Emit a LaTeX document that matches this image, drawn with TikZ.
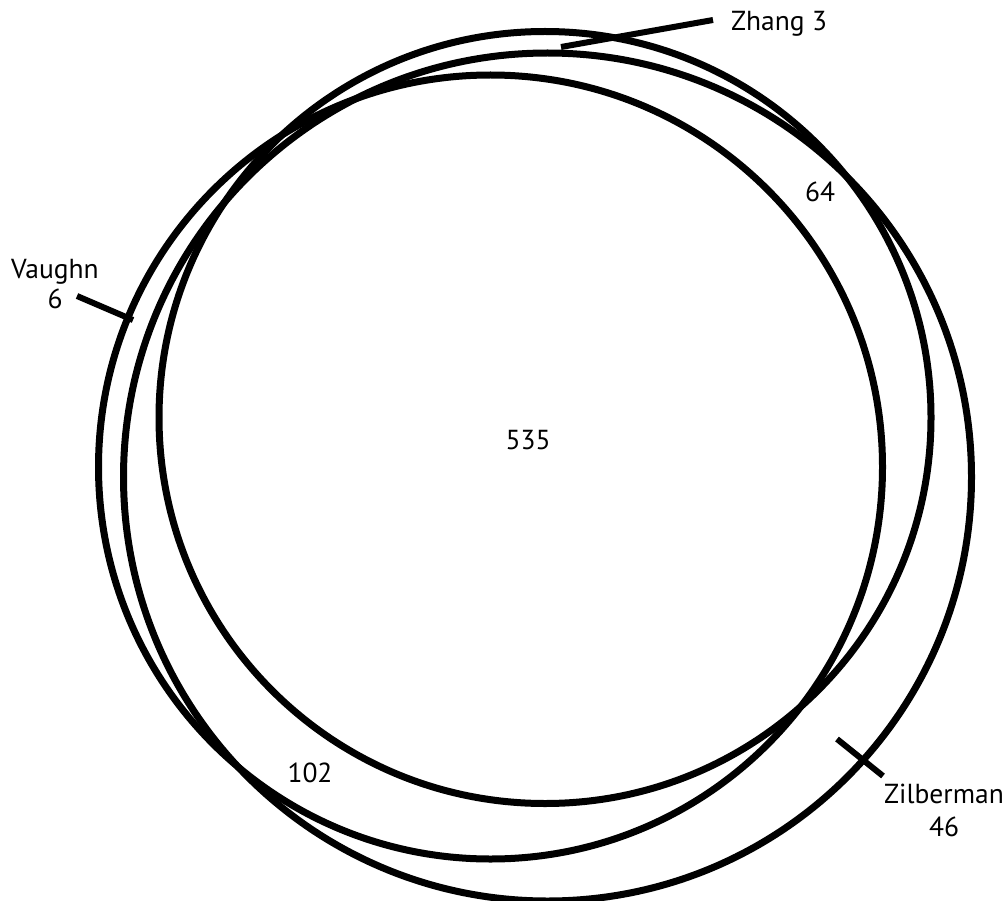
\documentclass[tikz,border=0pt]{standalone}
\usepackage{fontspec}
\setmainfont{PT Sans}
\usetikzlibrary{calc}

\begin{document}
\begin{tikzpicture}[x=1pt,y=-1pt,
    ring/.style={line width=7pt},
    pointer/.style={line width=6pt},
    lbl/.style={font=\fontsize{27.5}{32}\selectfont, inner sep=0pt}]
\useasboundingbox (0,0) rectangle (1008,901);

% Circles
\coordinate (zhang) at (545,417.5);
\coordinate (zilberman) at (547.5,477);
\coordinate (vaughn) at (490.5,467);
\draw[ring] (zhang) circle (386pt);
\draw[ring] (zilberman) circle (424pt);
\draw[ring] (vaughn) circle (392pt);

% Zhang
\node[lbl, anchor=base west] (zhang name) at (731,31) {Zhang 3};
\coordinate (zhang tail) at (713,20);
\coordinate (zhang tip) at (561,47);
\draw[pointer] (zhang tail) -- (zhang tip);

% Vaughn
\node[lbl, anchor=base] (vaughn name) at (55,278) {Vaughn};
\node[lbl, anchor=base] (vaughn count) at (55,308) {6};
\coordinate (vaughn tail) at (77,296);
\coordinate (vaughn tip) at (133,320);
\draw[pointer] (vaughn tail) -- (vaughn tip);

% Zilberman
\node[lbl, anchor=base] (zilberman name) at (944,803) {Zilberman};
\node[lbl, anchor=base] (zilberman count) at (944,836) {46};
\coordinate (zilberman tail) at (883,776);
\coordinate (zilberman tip) at (837,739);
\draw[pointer] (zilberman tail) -- (zilberman tip);

% Overlaps
\node[lbl, anchor=base] (all) at (528,449) {535};
\node[lbl, anchor=base] (zh zi) at (820,202) {64};
\node[lbl, anchor=base] (zi va) at (310,782) {102};

\end{tikzpicture}
\end{document}
